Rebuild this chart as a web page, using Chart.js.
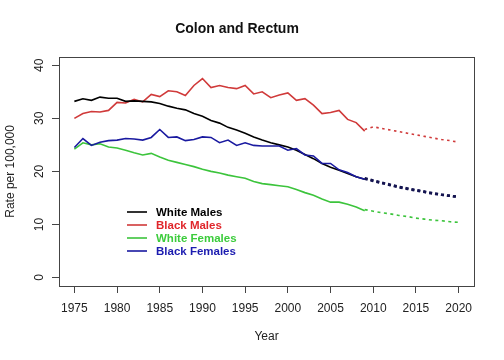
<!DOCTYPE html>
<html>
  <head>
    <title>Colon and Rectum</title>
    <style>
      body { margin: 0; background: #fff; }
    </style>
  </head>
  <body>
    <script src="https://cdn.jsdelivr.net/npm/chart.js@4.4.0/dist/chart.umd.min.js"></script>

    <canvas id="rateChart" width="504" height="360"></canvas>

    <script>
      // observed rates, 1975-2009
      const years = [1975, 1976, 1977, 1978, 1979, 1980, 1981, 1982, 1983, 1984,
                     1985, 1986, 1987, 1988, 1989, 1990, 1991, 1992, 1993, 1994,
                     1995, 1996, 1997, 1998, 1999, 2000, 2001, 2002, 2003, 2004,
                     2005, 2006, 2007, 2008, 2009];
      const whiteMales = [33.2, 33.7, 33.4, 34.0, 33.8, 33.8, 33.2, 33.3, 33.2, 33.1,
                          32.8, 32.3, 31.9, 31.6, 30.9, 30.4, 29.6, 29.1, 28.3, 27.8,
                          27.2, 26.5, 25.9, 25.4, 25.0, 24.6, 24.0, 23.2, 22.4, 21.5,
                          20.8, 20.2, 19.6, 19.0, 18.5];
      const blackMales = [30.0, 30.9, 31.3, 31.2, 31.5, 33.0, 32.9, 33.6, 33.1, 34.5,
                          34.1, 35.2, 35.0, 34.3, 36.2, 37.5, 35.8, 36.2, 35.8, 35.6,
                          36.2, 34.6, 35.0, 33.9, 34.4, 34.8, 33.4, 33.7, 32.5, 30.9,
                          31.1, 31.5, 29.8, 29.2, 27.6];
      const whiteFemales = [24.2, 25.4, 25.0, 25.2, 24.6, 24.4, 24.0, 23.5, 23.1, 23.4,
                            22.7, 22.1, 21.7, 21.3, 20.9, 20.4, 20.0, 19.7, 19.3, 19.0,
                            18.7, 18.1, 17.7, 17.5, 17.3, 17.1, 16.6, 16.0, 15.5, 14.8,
                            14.2, 14.2, 13.8, 13.3, 12.6];
      const blackFemales = [24.5, 26.2, 24.9, 25.5, 25.8, 25.9, 26.2, 26.1, 25.9, 26.4,
                            27.9, 26.4, 26.5, 25.8, 26.0, 26.5, 26.4, 25.4, 25.9, 24.9,
                            25.4, 24.9, 24.8, 24.8, 24.8, 24.0, 24.3, 23.1, 22.9, 21.5,
                            21.5, 20.3, 19.8, 19.0, 18.5];

      // projected rates, 2009-2020 (dotted)
      const projYears = [2009, 2010, 2011, 2012, 2013, 2014, 2015, 2016, 2017, 2018, 2019, 2020];
      const whiteMalesProj = [18.6, 18.2, 17.8, 17.4, 17.0, 16.7, 16.4, 16.1, 15.8, 15.6, 15.4, 15.2];
      const blackMalesProj = [27.9, 28.4, 28.1, 27.8, 27.5, 27.2, 26.9, 26.6, 26.3, 26.0, 25.8, 25.5];
      const whiteFemalesProj = [12.8, 12.5, 12.2, 12.0, 11.7, 11.5, 11.2, 11.0, 10.8, 10.7, 10.5, 10.4];
      const blackFemalesProj = [18.7, 18.3, 17.9, 17.5, 17.1, 16.8, 16.5, 16.2, 15.9, 15.6, 15.4, 15.2];

      const xTicks = [1975, 1980, 1985, 1990, 1995, 2000, 2005, 2010, 2015, 2020];
      const yTicks = [0, 10, 20, 30, 40];

      const labels = ["White Males", "Black Males", "White Females", "Black Females"];
      const colors = ["#000000", "#d03a3a", "#3cc43c", "#1a1aa0"];
      const textColors = ["#000000", "#e0262b", "#3ccc3c", "#1c1cb0"];

      const font = "'Liberation Sans', Arial, Helvetica, sans-serif";

      function pts(xs, ys) {
        return xs.map((x, i) => ({ x: x, y: ys[i] }));
      }

      const observed = [whiteMales, blackMales, whiteFemales, blackFemales];
      const projected = [whiteMalesProj, blackMalesProj, whiteFemalesProj, blackFemalesProj];
      const drawOrder = [2, 3, 4, 1];
      const dashes = [[3, 3], [2.5, 3.5], [3, 3.5], [3, 3]];
      const dashWidth = [2.5, 1.6, 1.6, 2.5];

      const datasets = [];
      observed.forEach((vals, i) => {
        datasets.push({
          label: labels[i],
          data: pts(years, vals),
          borderColor: colors[i],
          borderWidth: 1.6,
          pointRadius: 0,
          order: drawOrder[i]
        });
      });
      projected.forEach((vals, i) => {
        datasets.push({
          label: labels[i] + " (projected)",
          data: pts(projYears, vals),
          borderColor: i == 0 || i == 3 ? "#141450" : colors[i],
          borderWidth: dashWidth[i],
          borderDash: dashes[i],
          pointRadius: 0,
          order: drawOrder[i] + 4
        });
      });

      // R style extras: box, rotated y labels, legend inside the plot
      const rStyle = {
        id: "rStyle",
        afterDraw(chart) {
          const ctx = chart.ctx;
          const a = chart.chartArea;
          const y = chart.scales.y;
          ctx.save();
          ctx.strokeStyle = "#444";
          ctx.lineWidth = 1;
          ctx.strokeRect(Math.round(a.left) + 0.5, Math.round(a.top) + 0.5,
                         Math.round(a.right - a.left), Math.round(a.bottom - a.top));

          ctx.fillStyle = "#222";
          ctx.font = "12px " + font;
          ctx.textAlign = "center";
          ctx.textBaseline = "middle";
          for (const v of yTicks) {
            ctx.save();
            ctx.translate(40, y.getPixelForValue(v));
            ctx.rotate(-Math.PI / 2);
            ctx.fillText(String(v), 0, 0);
            ctx.restore();
          }

          ctx.font = "bold 11.5px " + font;
          ctx.textAlign = "left";
          labels.forEach((lab, i) => {
            const ly = 212 + i * 13;
            ctx.strokeStyle = colors[i];
            ctx.lineWidth = 1.6;
            ctx.beginPath();
            ctx.moveTo(127, ly);
            ctx.lineTo(147, ly);
            ctx.stroke();
            ctx.fillStyle = textColors[i];
            ctx.fillText(lab, 156, ly + 1);
          });
          ctx.restore();
        }
      };

      const ctx = document.getElementById("rateChart").getContext("2d");

      const chart = new Chart(ctx, {
        type: "line",
        data: { datasets: datasets },
        plugins: [rStyle],
        options: {
          responsive: false,
          animation: false,
          layout: { padding: { left: 0, right: 30, top: 0, bottom: 0 } },
          plugins: {
            legend: { display: false },
            tooltip: { enabled: false },
            title: {
              display: true,
              text: "Colon and Rectum",
              color: "#111",
              font: { family: font, size: 14, weight: "bold" },
              padding: { top: 21, bottom: 19 }
            }
          },
          scales: {
            x: {
              type: "linear",
              min: 1973.2,
              max: 2021.8,
              afterFit: (s) => { s.height = 74; },
              afterBuildTicks: (s) => { s.ticks = xTicks.map(v => ({ value: v })); },
              grid: { drawOnChartArea: false, tickLength: 7, color: "#444" },
              border: { display: false },
              ticks: {
                padding: 8,
                color: "#222",
                font: { family: font, size: 12 },
                maxRotation: 0,
                autoSkip: false,
                callback: (v) => String(v)
              },
              title: {
                display: true,
                text: "Year",
                color: "#222",
                font: { family: font, size: 12 },
                padding: { top: 0, bottom: 16 }
              }
            },
            y: {
              min: -1.6,
              max: 41.6,
              afterFit: (s) => { s.width = 59; },
              afterBuildTicks: (s) => { s.ticks = yTicks.map(v => ({ value: v })); },
              grid: { drawOnChartArea: false, tickLength: 7, color: "#444" },
              border: { display: false },
              ticks: { display: false },
              title: {
                display: true,
                text: "Rate per 100,000",
                color: "#222",
                font: { family: font, size: 12 },
                padding: { top: 3, bottom: 0 }
              }
            }
          }
        }
      });
    </script>
  </body>
</html>
